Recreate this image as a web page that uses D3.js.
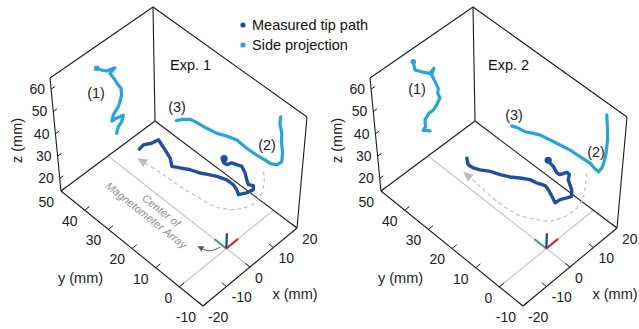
<!DOCTYPE html>
<html><head><meta charset="utf-8">
<script src="https://cdn.jsdelivr.net/npm/d3@7"></script>
<style>
html,body{margin:0;padding:0;background:#fff;}
svg{display:block;font-family:"Liberation Sans",Arial,Helvetica,sans-serif;}
</style></head><body>
<svg id="chart" width="639" height="329"></svg>
<script>
// ---------------- data (mm) ----------------
const xTicks = [-20, -10, 0, 10, 20];
const yTicks = [-10, 0, 10, 20, 30, 40, 50];
const zTicks = [20, 30, 40, 50, 60];
const xDomain = [-20, 20];
const yDomain = [-10, 50];
const zDomain = [14.4, 65];
const panelTitles = ["Exp. 1", "Exp. 2"];
const legendLabels = ["Measured tip path", "Side projection"];
const segmentLabels = ["(1)", "(2)", "(3)"];
const arrayLabel = ["Center of", "Magnetometer Array"];
const tipHeight = 26; // estimated height of the measured tip path

// Exp. 1 measured tip path [x, y]
const exp1Tip = [[1.7,38.1],[3.7,38.4],[5.9,37.2],[8.3,36.7],[7.6,34.7],[6.9,32.6],[5.7,29.3],[3.8,26.7],[5.1,24.6],[6.7,22.0],[7.9,19.0],[9.4,16.5],[10.4,14.6],[11.5,11.6],[11.5,8.9],[10.9,6.9],[9.9,5.2],[12.0,3.9],[14.2,3.3],[15.3,4.4],[14.6,5.7],[15.6,7.4],[17.1,9.6],[18.2,12.0],[17.6,13.6],[17.1,15.1],[15.6,15.7],[15.5,17.0],[16.7,17.9]];
// Exp. 1 side projection on the y = 50 wall [x, z]
const exp1SideXZ = [[-2.4,55.4],[-0.5,53.1],[1.4,51.2],[3.3,50.6],[4.6,50.1],[2.6,49.2],[4.4,44.8],[5.6,41.6],[6.6,39.4],[6.7,36.3],[5.9,33.9],[5.2,32.3],[3.0,30.3],[2.3,28.2],[4.3,27.9],[7.0,27.1],[6.3,24.8],[4.8,23.7],[4.0,21.4]];
// Exp. 1 side projection on the x = 20 wall [y, z]
const exp1SideYZ = [[41.0,21.7],[38.7,24.1],[35.3,26.9],[32.5,27.6],[28.4,28.4],[24.3,29.4],[20.3,31.5],[16.2,33.0],[12.1,32.6],[8.1,32.8],[4.7,33.4],[2.6,33.5],[-0.1,35.0],[-1.9,37.9],[-2.0,41.9],[-1.3,45.9],[-1.1,50.2],[-0.1,53.9],[-0.3,57.0]];
// Exp. 1 dashed motion guide [x, y]
const exp1Guide = [[21.2,6.1],[19.7,4.2],[17.1,2.0],[13.8,0.1],[10.5,-0.4],[7.3,0.6],[4.2,3.0],[1.7,7.5],[0.9,13.5],[0.1,19.7],[-0.2,26.2],[-0.9,33.2]];
// Exp. 1 rotation arrow at the array centre [x, y]
const exp1Rotation = [[-1.0,1.7],[-4.0,2.9],[-5.1,5.3]];

// Exp. 2
const exp2Tip = [[0.8,34.1],[-0.7,32.0],[-0.5,30.1],[0.4,28.2],[2.1,25.7],[3.3,22.8],[4.7,20.1],[6.5,17.7],[8.1,15.2],[8.6,12.9],[9.6,10.4],[9.2,8.7],[8.1,6.1],[7.0,3.7],[8.9,3.5],[10.7,2.5],[12.1,1.9],[13.9,3.7],[14.9,5.4],[15.9,7.1],[17.5,8.2],[17.6,9.4],[15.6,10.2],[15.4,11.3],[16.5,13.8],[16.7,15.4],[17.1,16.6]];
const exp2SideXZ = [[-3.5,59.2],[-3.1,55.2],[-0.6,52.4],[2.6,49.2],[4.2,50.2],[3.2,48.0],[4.4,44.1],[5.5,40.2],[5.2,38.3],[6.0,35.6],[4.6,33.6],[3.1,32.4],[1.4,32.4],[-0.4,30.8],[-0.3,27.7],[-1.3,26.8],[1.4,24.5]];
const exp2SideYZ = [[34.6,24.5],[32.5,25.5],[29.1,26.3],[25.7,28.3],[23.0,29.8],[18.8,30.9],[14.8,31.9],[10.7,32.9],[6.7,33.2],[2.6,33.6],[0.6,32.8],[-0.9,32.5],[-2.2,35.4],[-2.8,38.6],[-3.3,42.9],[-3.5,49.1],[-3.2,53.4],[-2.7,57.5],[-2.5,59.7]];
const exp2Guide = [[21.4,4.9],[18.1,2.1],[14.4,-0.7],[10.7,-2.2],[7.2,-2.3],[3.8,-1.5],[1.1,0.0],[-1.2,3.2],[-3.6,7.7],[-4.4,12.7],[-4.5,19.2],[-4.0,24.6],[-3.8,28.2]];

// ---------------- layout / style ----------------
const COL_TIP = "#1f4ea3", COL_SIDE = "#27a4d9", COL_GRAY = "#c6c6c6", COL_AX = "#1a1a1a";
const panels = [
  {ox:0, title:panelTitles[0], tip:exp1Tip, sxz:exp1SideXZ, syz:exp1SideYZ, guide:exp1Guide, rot:exp1Rotation,
   lab:[[96,93],[267,145],[177,107]], titlePos:[170,69.5], showArray:true},
  {ox:320, title:panelTitles[1], tip:exp2Tip, sxz:exp2SideXZ, syz:exp2SideYZ, guide:exp2Guide, rot:null,
   lab:[[97,88.5],[276,151.5],[194,115]], titlePos:[168,69.5], showArray:false}
];
// screen corners of the box (panel-local): bottom F,R,L,B and top
const C = {F:[203,306], R:[297,228], L:[61,191], B:[155,121],
           Ft:[205,197], Rt:[307,117], Lt:[50,78], Bt:[153,7]};

const su = d3.scaleLinear().domain(xDomain).range([0,1]);
const sv = d3.scaleLinear().domain(yDomain).range([0,1]);
const sw = d3.scaleLinear().domain(zDomain).range([0,1]);

function project(x,y,z){
  const u=su(x), v=sv(y), w=sw(z);
  const bl=(a,b,c,d,i)=>(1-u)*(1-v)*a[i]+u*(1-v)*b[i]+(1-u)*v*c[i]+u*v*d[i];
  const b0=[bl(C.F,C.R,C.L,C.B,0), bl(C.F,C.R,C.L,C.B,1)];
  const t0=[bl(C.Ft,C.Rt,C.Lt,C.Bt,0), bl(C.Ft,C.Rt,C.Lt,C.Bt,1)];
  return [b0[0]+(t0[0]-b0[0])*w, b0[1]+(t0[1]-b0[1])*w];
}
const line3 = d3.line().x(p=>p[0]).y(p=>p[1]);

const svg = d3.select("#chart");
const defs = svg.append("defs");
defs.append("marker").attr("id","garrow").attr("viewBox","0 0 10 10").attr("refX",1).attr("refY",5)
  .attr("markerWidth",10).attr("markerHeight",10).attr("markerUnits","userSpaceOnUse").attr("orient","auto")
  .append("path").attr("d","M0,0.5 L10,5 L0,9.5 Z").attr("fill","#bdbdbd");
defs.append("marker").attr("id","darrow").attr("viewBox","0 0 10 10").attr("refX",2).attr("refY",5)
  .attr("markerWidth",6).attr("markerHeight",6).attr("markerUnits","userSpaceOnUse").attr("orient","auto")
  .append("path").attr("d","M0,0 L10,5 L0,10 Z").attr("fill","#555");

const [x0,x1]=xDomain, [y0,y1]=yDomain, [z0,z1]=zDomain;

panels.forEach(P=>{
  const g = svg.append("g").attr("transform",`translate(${P.ox},0)`);
  const seg=(a,b,stroke,wd,dash)=>g.append("path").attr("d",line3([project(...a),project(...b)]))
      .attr("stroke",stroke).attr("stroke-width",wd).attr("fill","none").attr("stroke-dasharray",dash||null);

  // gray reference lines through the array centre
  seg([0,y0,z0],[0,y1,z0],COL_GRAY,1.2);
  seg([x0,0,z0],[x1,0,z0],COL_GRAY,1.2);

  // box edges
  const edges=[
    [[x0,y1,z0],[x0,y1,z1]],[[x1,y1,z0],[x1,y1,z1]],[[x1,y0,z0],[x1,y0,z1]],
    [[x0,y1,z1],[x1,y1,z1]],[[x1,y1,z1],[x1,y0,z1]],
    [[x0,y1,z0],[x1,y1,z0]],[[x1,y1,z0],[x1,y0,z0]],
    [[x0,y1,z0],[x0,y0,z0]],[[x0,y0,z0],[x1,y0,z0]]
  ];
  edges.forEach(e=>seg(e[0],e[1],COL_AX,1.1));

  // ticks and tick labels
  const tk=g.append("g").attr("font-size",14).attr("fill","#222");
  xTicks.forEach(t=>{
    seg([t,y0,z0],[t,y0+2,z0],COL_AX,1);
    const p=project(t,y0,z0);
    tk.append("text").attr("x",p[0]+5).attr("y",p[1]+11).attr("dy","0.35em").text(t);
  });
  yTicks.forEach(t=>{
    seg([x0,t,z0],[x0+2,t,z0],COL_AX,1);
    const p=project(x0,t,z0);
    tk.append("text").attr("x",p[0]-7).attr("y",p[1]+11).attr("dy","0.35em").attr("text-anchor","end").text(t);
  });
  zTicks.forEach(t=>{
    seg([x0,y1,t],[x0+1.5,y1,t],COL_AX,1);
    const p=project(x0,y1,t);
    tk.append("text").attr("x",p[0]-6).attr("y",p[1]).attr("dy","0.35em").attr("text-anchor","end").text(t);
  });
  // axis titles
  g.append("text").attr("transform","translate(17,140.5) rotate(-90)").attr("text-anchor","middle")
    .attr("dy","0.35em").attr("font-size",14.5).attr("fill","#222").text("z (mm)");
  g.append("text").attr("x",80.5).attr("y",278).attr("text-anchor","middle").attr("dy","0.35em")
    .attr("font-size",14.5).attr("fill","#222").text("y (mm)");
  g.append("text").attr("x",295).attr("y",293.5).attr("text-anchor","middle").attr("dy","0.35em")
    .attr("font-size",14.5).attr("fill","#222").text("x (mm)");

  // array-centre annotation
  if(P.showArray){
    const c=project(0,12,z0);
    const tg=g.append("g").attr("transform",`translate(${c[0]-38},${c[1]-17}) rotate(38.5)`)
      .attr("font-size",11).attr("font-style","italic").attr("fill","#8f8f8f").attr("text-anchor","middle");
    tg.append("text").attr("x",2).attr("y",4).text(arrayLabel[0]);
    tg.append("text").attr("x",-7).attr("y",17).text(arrayLabel[1]);
  }

  // dashed motion guide
  g.append("path").attr("d",d3.line().curve(d3.curveCatmullRom)(P.guide.map(d=>project(d[0],d[1],tipHeight))))
    .attr("fill","none").attr("stroke","#c2c2c2").attr("stroke-width",1.2).attr("stroke-dasharray","4,3")
    .attr("marker-end","url(#garrow)");

  // coordinate triad at the array centre
  const o=project(0,0,z0);
  [[[5,0,z0],"#e32227"],[[0,5,z0],"#3aaa3a"],[[0,0,z0+7],"#1f3f99"]].forEach(([e,c])=>{
    const p=project(...e);
    g.append("line").attr("x1",o[0]).attr("y1",o[1]).attr("x2",p[0]).attr("y2",p[1])
      .attr("stroke",c).attr("stroke-width",2.2);
  });
  if(P.rot){
    g.append("path").attr("d",d3.line().curve(d3.curveNatural)(P.rot.map(d=>project(d[0],d[1],z0))))
      .attr("fill","none").attr("stroke","#555").attr("stroke-width",1).attr("marker-end","url(#darrow)");
  }

  // side projections
  const sideStyle=s=>s.attr("fill","none").attr("stroke",COL_SIDE).attr("stroke-width",3.2)
      .attr("stroke-linejoin","round").attr("stroke-linecap","round");
  sideStyle(g.append("path").attr("d",line3(P.sxz.map(d=>project(d[0],y1,d[1])))));
  sideStyle(g.append("path").attr("d",line3(P.syz.map(d=>project(x1,d[0],d[1])))));
  const s0=project(P.sxz[0][0],y1,P.sxz[0][1]);
  g.append("circle").attr("cx",s0[0]).attr("cy",s0[1]).attr("r",2.8).attr("fill",COL_SIDE);

  // measured tip path
  g.append("path").attr("d",line3(P.tip.map(d=>project(d[0],d[1],tipHeight))))
    .attr("fill","none").attr("stroke",COL_TIP).attr("stroke-width",3.4)
    .attr("stroke-linejoin","round").attr("stroke-linecap","round");
  const te=P.tip[P.tip.length-1], pe=project(te[0],te[1],tipHeight);
  g.append("circle").attr("cx",pe[0]).attr("cy",pe[1]).attr("r",3.6).attr("fill",COL_TIP);

  // labels
  P.lab.forEach((p,i)=>g.append("text").attr("x",p[0]).attr("y",p[1]).attr("dy","0.35em")
    .attr("text-anchor","middle").attr("font-size",14.5).attr("fill","#222").text(segmentLabels[i]));
  g.append("text").attr("x",P.titlePos[0]).attr("y",P.titlePos[1]).attr("font-size",14.5)
    .attr("fill","#111").text(P.title);
});

// legend
const lg=svg.append("g").attr("font-size",14.5).attr("fill","#111");
[[COL_TIP,25],[COL_SIDE,45]].forEach(([c,y],i)=>{
  lg.append("circle").attr("cx",243).attr("cy",y).attr("r",2.6).attr("fill",c);
  lg.append("text").attr("x",252).attr("y",y+4.5).text(legendLabels[i]);
});
</script>
</body></html>
